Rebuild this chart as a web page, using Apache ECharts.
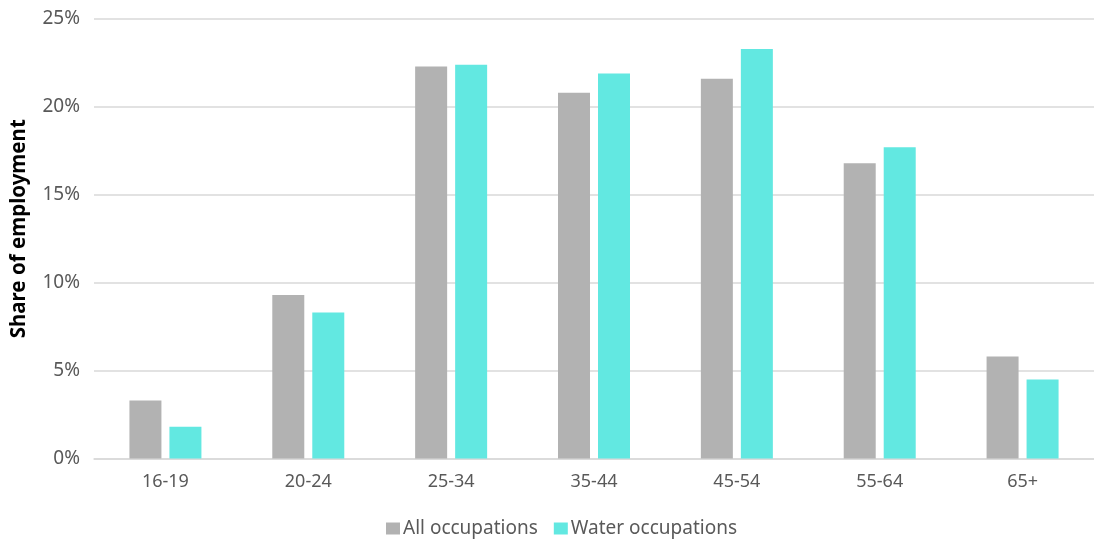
<!DOCTYPE html>
<html><head><meta charset="utf-8">
<script src="https://cdn.jsdelivr.net/npm/echarts@6/dist/echarts.min.js"></script>
<style>html,body{margin:0;padding:0;background:#fff}#c{width:1094px;height:540px}</style>
</head><body><div id="c"></div>
<script>
const categories = ['16-19','20-24','25-34','35-44','45-54','55-64','65+'];
const allOccupations = [3.3, 9.3, 22.3, 20.8, 21.6, 16.8, 5.8];
const waterOccupations = [1.8, 8.3, 22.4, 21.9, 23.3, 17.7, 4.5];
const seriesNames = ['All occupations', 'Water occupations'];

const font = '"Noto Sans", "Open Sans", sans-serif';
const chart = echarts.init(document.getElementById('c'), null, {renderer: 'canvas'});
chart.setOption({
  animation: false,
  grid: {left: 94, right: -7, top: 19, bottom: 81.5, containLabel: false},
  legend: {
    bottom: -3, left: 381, itemWidth: 14, itemHeight: 12, itemGap: 16,
    icon: 'rect',
    textStyle: {fontFamily: font, fontSize: 19, color: '#595959', padding: [0,0,0,-2]},
    data: seriesNames
  },
  xAxis: {
    type: 'category', data: categories,
    axisLine: {lineStyle: {color: '#d9d9d9', width: 1.5}},
    axisTick: {show: false},
    axisLabel: {fontFamily: font, fontSize: 18, color: '#595959', margin: 14}
  },
  yAxis: {
    type: 'value', min: 0, max: 25, interval: 5,
    name: 'Share of employment', nameLocation: 'middle', nameGap: 64,
    nameTextStyle: {fontFamily: font, fontSize: 20.5, fontWeight: 'bold', color: '#000', padding: [0,0,0,20]},
    axisLabel: {formatter: '{value}%', fontFamily: font, fontSize: 19, color: '#595959', margin: 14},
    splitLine: {lineStyle: {color: '#d9d9d9', width: 1.5}},
    axisLine: {show: false}, axisTick: {show: false}
  },
  series: [
    {name: seriesNames[0], type: 'bar', data: allOccupations, barWidth: 32, barGap: '25%', itemStyle: {color: '#b2b2b2'}},
    {name: seriesNames[1], type: 'bar', data: waterOccupations, barWidth: 32, itemStyle: {color: '#62e8e1'}}
  ]
});
</script></body></html>
